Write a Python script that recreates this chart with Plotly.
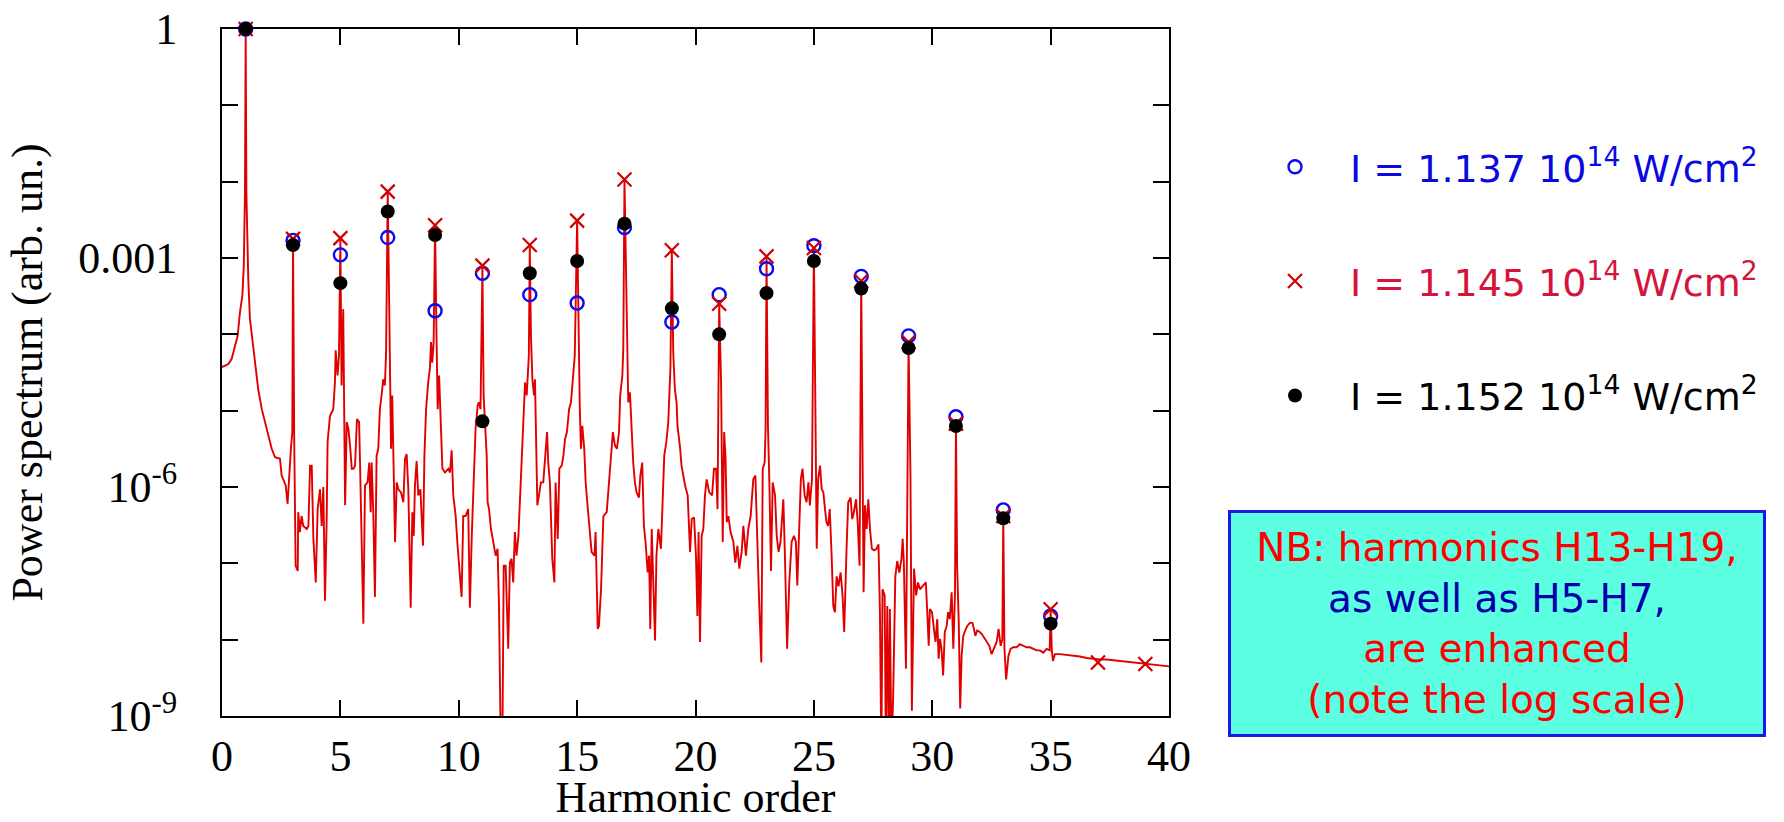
import plotly.graph_objects as go

# ---------------- data ----------------
harm_all = [1, 3, 5, 7, 9, 11, 13, 15, 17, 19, 21, 23, 25, 27, 29, 31, 33, 35, 37, 39]
harm = [1, 3, 5, 7, 9, 11, 13, 15, 17, 19, 21, 23, 25, 27, 29, 31, 33, 35]

# I = 1.137e14 W/cm2 (open blue circles)
circ_vals = [1.0, 1.70e-3, 1.10e-3, 1.86e-3, 2.04e-4, 6.31e-4, 3.31e-4, 2.57e-4, 2.51e-3,
             1.45e-4, 3.31e-4, 7.24e-4, 1.45e-3, 5.75e-4, 9.55e-5, 8.32e-6, 5.01e-7, 2.04e-8]
# I = 1.145e14 W/cm2 (red crosses)
cross_vals = [1.0, 1.78e-3, 1.82e-3, 7.41e-3, 2.69e-3, 7.94e-4, 1.48e-3, 3.09e-3, 1.07e-2,
              1.26e-3, 2.51e-4, 1.05e-3, 1.35e-3, 5.01e-4, 7.94e-5, 6.76e-6, 4.17e-7, 2.51e-8,
              5.01e-9, 4.79e-9]
# I = 1.152e14 W/cm2 (black dots)
dot_vals = [1.0, 1.48e-3, 4.68e-4, 4.07e-3, 2.00e-3, 7.24e-6, 6.31e-4, 9.12e-4, 2.82e-3,
            2.19e-4, 1.00e-4, 3.47e-4, 9.12e-4, 3.98e-4, 6.61e-5, 6.31e-6, 3.89e-7, 1.62e-8]

# continuous power spectrum (red line), x = harmonic order, log10 of power
spec_x = [
    0.00, 0.27, 0.41, 0.55, 0.66, 0.76, 0.86, 0.92, 0.97, 1.00, 1.03, 1.11, 1.18, 1.28, 1.37, 1.46,
    1.53, 1.68, 1.82, 1.96, 2.10, 2.24, 2.45, 2.52, 2.69, 2.77, 2.83, 2.91, 2.97, 3.00, 3.05, 3.11,
    3.20, 3.22, 3.29, 3.36, 3.43, 3.58, 3.65, 3.72, 3.79, 3.86, 3.96, 4.04, 4.14, 4.21, 4.28, 4.35,
    4.42, 4.46, 4.56, 4.70, 4.77, 4.80, 4.88, 4.94, 5.00, 5.05, 5.12, 5.17, 5.20, 5.27, 5.34, 5.41,
    5.48, 5.55, 5.62, 5.70, 5.79, 5.83, 5.90, 5.97, 6.04, 6.15, 6.22, 6.28, 6.32, 6.39, 6.46, 6.53,
    6.60, 6.67, 6.74, 6.81, 6.88, 6.93, 7.00, 7.08, 7.14, 7.19, 7.31, 7.38, 7.45, 7.56, 7.66, 7.73,
    7.80, 7.87, 7.97, 8.04, 8.10, 8.15, 8.22, 8.29, 8.38, 8.43, 8.49, 8.55, 8.62, 8.71, 8.78, 8.83,
    8.88, 8.94, 9.00, 9.06, 9.11, 9.17, 9.25, 9.31, 9.42, 9.56, 9.63, 9.70, 9.77, 9.87, 9.95, 10.05,
    10.12, 10.19, 10.29, 10.40, 10.47, 10.55, 10.66, 10.71, 10.80, 10.85, 10.92, 11.00, 11.05, 11.11,
    11.18, 11.22, 11.28, 11.36, 11.46, 11.56, 11.64, 11.70, 11.78, 11.84, 11.90, 11.98, 12.09, 12.16,
    12.23, 12.30, 12.37, 12.44, 12.52, 12.59, 12.66, 12.73, 12.80, 12.87, 12.91, 12.96, 13.00, 13.05,
    13.11, 13.18, 13.22, 13.28, 13.32, 13.39, 13.47, 13.57, 13.64, 13.73, 13.78, 13.85, 13.95, 14.04,
    14.09, 14.18, 14.25, 14.35, 14.42, 14.49, 14.57, 14.66, 14.74, 14.81, 14.90, 15.00, 15.05, 15.11,
    15.16, 15.22, 15.30, 15.36, 15.44, 15.54, 15.61, 15.73, 15.78, 15.87, 15.92, 16.01, 16.11, 16.25,
    16.32, 16.43, 16.51, 16.60, 16.68, 16.77, 16.82, 16.91, 16.95, 17.00, 17.08, 17.16, 17.23, 17.30,
    17.37, 17.44, 17.51, 17.61, 17.67, 17.75, 17.82, 17.89, 17.98, 18.04, 18.09, 18.15, 18.22, 18.29,
    18.35, 18.43, 18.54, 18.60, 18.68, 18.77, 18.85, 18.94, 19.00, 19.06, 19.13, 19.20, 19.24, 19.34,
    19.41, 19.56, 19.67, 19.77, 19.84, 19.94, 20.02, 20.08, 20.13, 20.19, 20.26, 20.33, 20.40, 20.47,
    20.58, 20.70, 20.78, 20.87, 20.93, 21.00, 21.08, 21.15, 21.21, 21.27, 21.32, 21.39, 21.48, 21.60,
    21.68, 21.77, 21.85, 21.95, 22.02, 22.13, 22.23, 22.33, 22.44, 22.53, 22.61, 22.68, 22.78, 22.84,
    22.92, 22.96, 23.00, 23.06, 23.12, 23.19, 23.26, 23.36, 23.43, 23.51, 23.59, 23.71, 23.77, 23.87,
    23.96, 24.06, 24.16, 24.24, 24.30, 24.38, 24.45, 24.52, 24.61, 24.69, 24.77, 24.83, 24.92, 25.00,
    25.06, 25.12, 25.18, 25.26, 25.33, 25.40, 25.47, 25.53, 25.60, 25.67, 25.75, 25.82, 25.89, 25.96,
    26.04, 26.13, 26.21, 26.28, 26.38, 26.45, 26.55, 26.62, 26.69, 26.78, 26.85, 26.93, 27.00, 27.05,
    27.10, 27.16, 27.23, 27.30, 27.37, 27.45, 27.54, 27.65, 27.73, 27.79, 27.85, 27.90, 27.99, 28.04,
    28.10, 28.17, 28.21, 28.28, 28.35, 28.44, 28.52, 28.61, 28.70, 28.75, 28.80, 28.89, 29.00, 29.08,
    29.14, 29.23, 29.32, 29.40, 29.48, 29.62, 29.73, 29.79, 29.85, 29.90, 29.99, 30.07, 30.14, 30.21,
    30.27, 30.33, 30.39, 30.46, 30.53, 30.61, 30.67, 30.74, 30.82, 30.89, 30.96, 31.00, 31.05, 31.12,
    31.18, 31.24, 31.31, 31.39, 31.48, 31.59, 31.70, 31.76, 31.82, 31.90, 32.01, 32.10, 32.19, 32.30,
    32.41, 32.51, 32.61, 32.72, 32.80, 32.89, 32.96, 33.00, 33.05, 33.12, 33.22, 33.31, 33.42, 33.56,
    33.70, 33.84, 33.98, 34.13, 34.27, 34.41, 34.55, 34.69, 34.83, 34.96, 35.00, 35.05, 35.10, 35.18,
    35.39, 35.67, 35.96, 36.24, 36.52, 36.80, 37.09, 37.37, 37.65, 37.93, 38.21, 38.49, 38.77, 39.05,
    39.33, 39.62, 40.00,
]
spec_log10 = [
    -4.43, -4.39, -4.32, -4.15, -4.02, -3.71, -3.49, -3.10, -2.15, 0.00, -2.15, -3.28, -3.80, -4.06, -4.32, -4.56,
    -4.72, -4.98, -5.15, -5.31, -5.50, -5.61, -5.63, -5.85, -5.98, -6.22, -5.85, -5.50, -5.28, -2.75, -5.37, -7.03,
    -7.10, -6.33, -6.59, -6.38, -6.51, -6.55, -6.51, -5.72, -5.72, -6.68, -7.25, -6.29, -6.03, -6.51, -6.00, -7.49,
    -6.46, -5.41, -5.07, -4.98, -4.63, -4.21, -4.54, -4.28, -2.74, -4.67, -3.67, -5.02, -6.24, -5.15, -5.24, -5.46,
    -5.76, -5.76, -5.72, -5.11, -5.15, -5.68, -6.64, -7.79, -5.98, -5.94, -5.68, -6.33, -5.68, -6.33, -7.44, -5.59,
    -5.50, -4.98, -4.80, -4.59, -4.67, -4.24, -2.13, -3.71, -5.50, -4.80, -6.72, -5.94, -6.03, -6.07, -6.20, -5.63,
    -5.57, -6.03, -7.58, -6.33, -6.64, -5.98, -5.66, -6.11, -6.03, -6.38, -6.77, -5.59, -4.98, -4.63, -4.45, -4.10,
    -4.37, -4.10, -2.57, -4.02, -4.98, -4.54, -5.24, -5.76, -5.81, -5.76, -5.81, -5.52, -6.11, -6.38, -6.77, -7.12,
    -7.44, -6.38, -6.38, -6.29, -7.58, -6.64, -5.81, -5.24, -4.93, -4.89, -4.98, -3.10, -4.80, -5.24,
    -5.59, -6.20, -6.29, -6.55, -6.72, -6.90, -6.81, -7.56, -9.50, -9.50, -7.03, -7.03, -8.12, -6.99,
    -6.94, -7.25, -6.59, -6.90, -6.64, -6.11, -5.68, -5.15, -4.63, -4.80, -4.63, -4.28, -2.83, -4.02,
    -4.59, -4.80, -4.59, -5.41, -6.24, -6.11, -5.94, -5.94, -5.68, -5.28, -5.68, -5.94, -6.94, -7.25,
    -5.94, -6.68, -5.76, -5.72, -5.59, -5.37, -5.28, -4.98, -4.89, -4.63, -4.28, -2.51, -3.76, -4.93,
    -5.50, -5.20, -5.50, -5.94, -6.24, -6.59, -6.85, -6.90, -6.59, -7.86, -7.82, -7.34, -6.38, -6.33,
    -6.03, -5.50, -5.28, -5.46, -5.50, -5.28, -4.80, -4.54, -4.19, -1.97, -3.71, -4.89, -4.76, -5.28,
    -5.68, -5.94, -6.07, -6.14, -5.85, -5.68, -6.51, -6.72, -7.12, -6.90, -7.86, -6.55, -7.34, -8.01,
    -6.90, -6.55, -6.81, -6.29, -5.59, -5.41, -5.15, -4.45, -2.90, -4.24, -4.72, -4.89, -5.20, -5.46,
    -5.72, -5.98, -6.11, -6.85, -6.42, -6.40, -6.90, -7.69, -6.59, -8.03, -6.64, -6.55, -6.11, -5.90,
    -6.07, -6.11, -5.76, -5.76, -6.29, -3.60, -4.63, -6.72, -5.28, -5.63, -6.46, -6.38, -6.59, -6.72,
    -6.99, -6.77, -7.07, -6.85, -6.51, -6.90, -6.55, -6.38, -5.90, -5.85, -6.90, -7.42, -8.30, -5.76,
    -5.68, -5.24, -2.98, -5.20, -5.94, -7.10, -5.94, -6.11, -6.64, -6.85, -6.72, -6.16, -6.81, -8.12,
    -7.25, -6.72, -6.64, -6.72, -7.29, -6.38, -5.90, -5.76, -6.11, -6.20, -5.94, -6.24, -5.90, -2.87,
    -4.67, -6.81, -5.90, -5.72, -6.03, -6.07, -6.29, -6.46, -6.51, -6.29, -6.90, -7.56, -7.64, -7.17,
    -7.30, -7.12, -7.42, -7.90, -6.81, -6.20, -6.14, -6.42, -6.33, -6.16, -6.46, -7.03, -3.30, -5.07,
    -7.38, -6.24, -6.55, -6.16, -6.55, -6.81, -6.83, -6.81, -6.75, -7.64, -9.50, -7.34, -7.42, -9.50,
    -7.56, -9.50, -7.60, -9.50, -8.73, -7.17, -6.97, -7.12, -6.94, -6.68, -6.99, -8.38, -4.10, -5.85,
    -8.93, -7.07, -7.42, -7.25, -7.34, -7.29, -7.25, -7.64, -8.08, -7.60, -7.64, -7.86, -8.03, -7.73,
    -8.25, -7.99, -8.12, -8.47, -7.90, -7.82, -7.64, -7.73, -7.38, -8.12, -7.40, -5.17, -7.03, -7.78,
    -8.90, -8.21, -7.95, -7.88, -7.82, -7.78, -7.78, -7.86, -7.95, -7.88, -7.90, -7.93, -7.97, -8.03,
    -8.08, -8.19, -8.12, -8.03, -7.86, -8.08, -8.00, -6.38, -8.12, -8.52, -8.21, -8.12, -8.10, -8.10,
    -8.06, -8.08, -8.10, -8.10, -8.12, -8.14, -8.14, -8.17, -8.12, -8.14, -7.60, -8.14, -8.28, -8.19,
    -8.19, -8.20, -8.21, -8.22, -8.24, -8.25, -8.26, -8.26, -8.27, -8.28, -8.29, -8.30, -8.31, -8.32,
    -8.33, -8.34, -8.35,
]

x_ticks = [0, 5, 10, 15, 20, 25, 30, 35, 40]
y_tickvals = [1, 1e-3, 1e-6, 1e-9]
y_ticktext = ["1", "0.001", "10<sup>-6</sup>", "10<sup>-9</sup>"]
y_minorvals = [1e-1, 1e-2, 1e-4, 1e-5, 1e-7, 1e-8]

legend_names = [
    "<span style='color:#0A0AE0'>I = 1.137 10<sup>14</sup> W/cm<sup>2</sup></span>",
    "<span style='color:#D4143C'>I = 1.145 10<sup>14</sup> W/cm<sup>2</sup></span>",
    "<span style='color:#000000'>I = 1.152 10<sup>14</sup> W/cm<sup>2</sup></span>",
]

note_text = ("<span style='color:#FF0000'>NB: harmonics H13-H19,</span><br>"
             "<span style='color:#0000AA'>as well as H5-H7,</span><br>"
             "<span style='color:#FF0000'>are enhanced</span><br>"
             "<span style='color:#FF0000'>(note the log scale)</span>")

# ---------------- figure ----------------
spec_y = [10 ** v for v in spec_log10]

fig = go.Figure()
fig.add_trace(go.Scatter(
    x=spec_x, y=spec_y, mode="lines",
    line=dict(color="#E00000", width=1.9),
    showlegend=False, hoverinfo="skip",
))
fig.add_trace(go.Scatter(
    x=harm, y=circ_vals, mode="markers", name=legend_names[0], legendgroup="g1",
    marker=dict(symbol="circle-open", size=13, color="#0A0AF0", line=dict(width=2.4, color="#0A0AF0")),
    cliponaxis=False,
))
fig.add_trace(go.Scatter(
    x=harm_all, y=cross_vals, mode="markers", name=legend_names[1], legendgroup="g2",
    marker=dict(symbol="x-thin-open", size=14, color="#D00000", line=dict(width=2.2, color="#D00000")),
    cliponaxis=False,
))
fig.add_trace(go.Scatter(
    x=harm, y=dot_vals, mode="markers", name=legend_names[2], legendgroup="g3",
    marker=dict(symbol="circle", size=14, color="#000000"),
    cliponaxis=False,
))

serif = "Liberation Serif"
sans = "DejaVu Sans"

fig.update_layout(
    width=1784, height=822,
    margin=dict(l=222, r=615, t=29, b=106, autoexpand=False),
    paper_bgcolor="white", plot_bgcolor="white",
    showlegend=True,
    xaxis=dict(
        range=[0, 40], tickmode="array", tickvals=x_ticks,
        ticks="inside", ticklen=16, tickwidth=2, tickcolor="black",
        showline=True, linecolor="black", linewidth=2, mirror="ticks",
        showgrid=False, zeroline=False, automargin=False,
        tickfont=dict(family=serif, size=44, color="black"),
        ticklabelstandoff=0,
        title=dict(text="Harmonic order", font=dict(family=serif, size=44, color="black"), standoff=14),
    ),
    yaxis=dict(
        type="log", range=[-9, 0], tickmode="array", tickvals=y_tickvals, ticktext=y_ticktext,
        ticks="inside", ticklen=16, tickwidth=2, tickcolor="black",
        minor=dict(tickvals=y_minorvals, ticks="inside", ticklen=16, tickwidth=2, tickcolor="black", showgrid=False),
        showline=True, linecolor="black", linewidth=2, mirror="ticks",
        showgrid=False, zeroline=False, automargin=False,
        tickfont=dict(family=serif, size=44, color="black"),
        ticklabelstandoff=34,
        title=dict(text="Power spectrum (arb. un.)", font=dict(family=serif, size=44, color="black"), standoff=22),
    ),
    legend=dict(
        x=1.075, y=0.845, xanchor="left", yanchor="top",
        font=dict(family=sans, size=38, color="black"),
        bgcolor="rgba(0,0,0,0)", tracegroupgap=62, itemwidth=100,
        traceorder="grouped",
    ),
    annotations=[dict(
        xref="paper", yref="paper", x=1.3464, y=0.1346, xanchor="center", yanchor="middle",
        showarrow=False, text=note_text, align="center",
        font=dict(family=sans, size=39, color="#FF0000"),
        bgcolor="#5CFFE2", bordercolor="#1A1AE6", borderwidth=3, borderpad=0,
        width=532, height=221,
    )],
)

fig.write_html("out.html")
